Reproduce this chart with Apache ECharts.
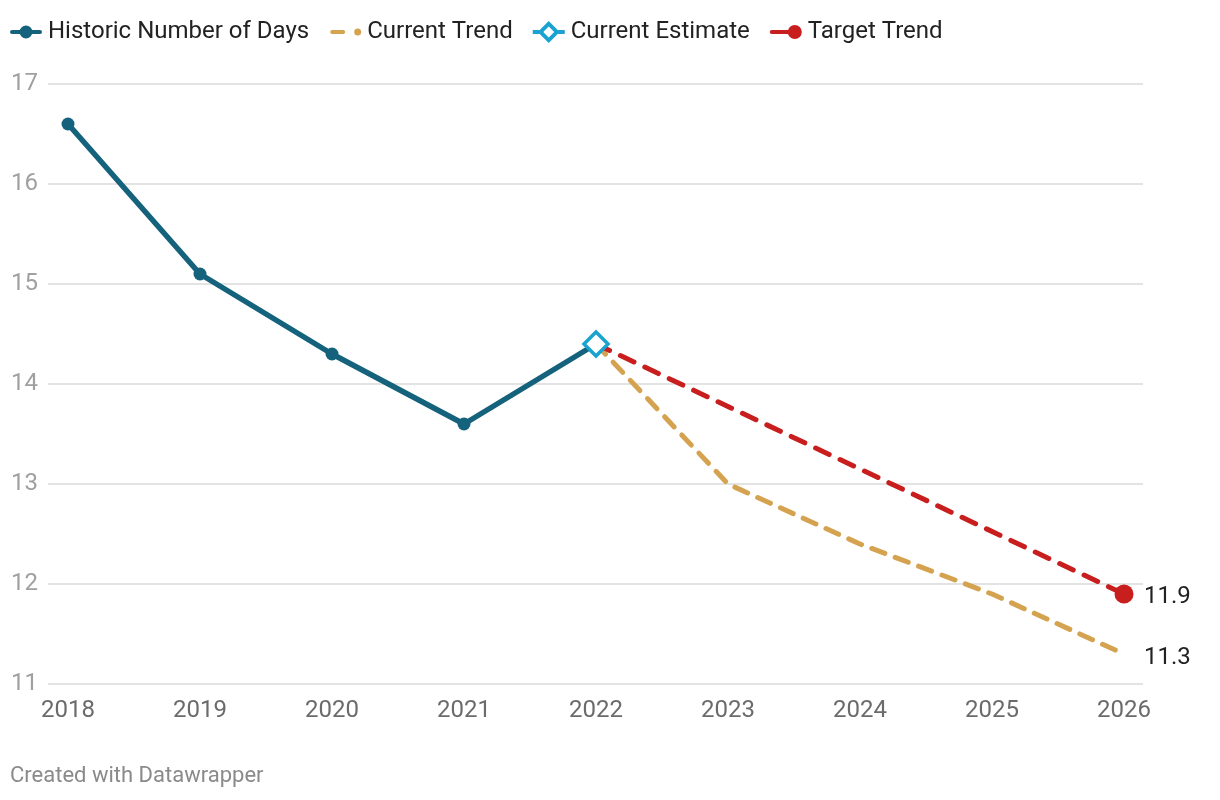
<!DOCTYPE html>
<html>
<head>
<meta charset="utf-8">
<script src="https://cdn.jsdelivr.net/npm/echarts@6/dist/echarts.min.js"></script>
<style>
html,body{margin:0;padding:0;background:#fff;}
#c{width:1220px;height:800px;}
</style>
</head>
<body>
<div id="c"></div>
<script>
const years = [2018, 2019, 2020, 2021, 2022, 2023, 2024, 2025, 2026];
const historicYears = [2018, 2019, 2020, 2021, 2022];
const historicValues = [16.6, 15.1, 14.3, 13.6, 14.4];
const currentTrendYears = [2022, 2023, 2024, 2025, 2026];
const currentTrendValues = [14.4, 13.0, 12.4, 11.9, 11.3];
const estimateYears = [2022];
const estimateValues = [14.4];
const targetYears = [2022, 2026];
const targetValues = [14.4, 11.9];
const yTicks = [11, 12, 13, 14, 15, 16, 17];

const pair = (xs, ys) => xs.map((x, i) => [x, ys[i]]);
const FONT = 'Roboto';

// legend icon paths in a 34 x 22 box (tiny corner anchors fix the box)
const BOX = 'M0,0 L0.01,0 L0,0.01 Z M34,22 L33.99,22 L34,21.99 Z ';
const circ = (cx, cy, r) => `M${cx},${cy - r} A${r},${r} 0 1 1 ${cx},${cy + r} A${r},${r} 0 1 1 ${cx},${cy - r} Z `;
const bar = (x1, x2) => `M${x1 + 2},9 L${x2 - 2},9 A2,2 0 0 1 ${x2 - 2},13 L${x1 + 2},13 A2,2 0 0 1 ${x1 + 2},9 Z `;
const iconHistoric = 'path://' + BOX + bar(1, 33) + circ(17, 11, 6.5);
const iconCurrent = 'path://' + BOX + bar(2, 17) + circ(29.5, 11, 3.5);
const iconEstimate = 'path://' + BOX +
  'M17,0 L28,11 L17,22 L6,11 Z M17,5.5 L11.5,11 L17,16.5 L22.5,11 Z ' +
  'M1,9 L7.5,9 L7.5,13 L1,13 Z M26.5,9 L33,9 L33,13 L26.5,13 Z';
const iconTarget = 'path://' + BOX + bar(1, 24) + circ(26, 11, 7);

const chart = echarts.init(document.getElementById('c'));
const endLbl = {
  show: true, distance: 20,
  color: '#222', fontSize: 24, fontFamily: FONT,
  formatter: p => p.value[1].toFixed(1)
};

chart.setOption({
  animation: false,
  textStyle: { fontFamily: FONT },
  legend: {
    left: 4, top: 15,
    itemWidth: 34, itemHeight: 22, itemGap: 19,
    textStyle: { fontSize: 24, color: '#222', fontFamily: FONT },
    data: [
      { name: 'Historic Number of Days', icon: iconHistoric, itemStyle: { color: '#14627c', borderWidth: 0 } },
      { name: 'Current Trend', icon: iconCurrent, itemStyle: { color: '#d5a350', borderWidth: 0 } },
      { name: 'Current Estimate', icon: iconEstimate, itemStyle: { color: '#1aa2d1', borderWidth: 0 } },
      { name: 'Target Trend', icon: iconTarget, itemStyle: { color: '#c81e1e', borderWidth: 0 } }
    ]
  },
  grid: { left: 48, right: 77, top: 84, bottom: 116, containLabel: false },
  xAxis: {
    type: 'value',
    min: 2018 - 20 / 132,
    max: 2026 + 19 / 132,
    axisLine: { show: false },
    axisTick: { show: false },
    splitLine: { show: false },
    axisLabel: {
      customValues: years,
      formatter: v => String(Math.round(v)),
      color: '#6b6b6b', fontSize: 24, fontFamily: FONT, margin: 15
    }
  },
  yAxis: {
    type: 'value', min: 11, max: 17, interval: 1,
    axisLine: { show: false }, axisTick: { show: false },
    splitLine: { lineStyle: { color: '#e3e3e3', width: 2 } },
    axisLabel: {
      color: '#a0a0a0', fontSize: 24, fontFamily: FONT,
      align: 'left', margin: 37,
      formatter: v => yTicks.includes(v) ? String(v) : ''
    }
  },
  series: [
    {
      name: 'Current Trend', type: 'line',
      data: pair(currentTrendYears, currentTrendValues),
      symbol: 'none', z: 2,
      lineStyle: { color: '#d5a350', width: 5, type: [14, 11], cap: 'round' },
      itemStyle: { color: '#d5a350' },
      endLabel: Object.assign({}, endLbl, { offset: [0, 4] })
    },
    {
      name: 'Target Trend', type: 'line',
      data: pair(targetYears, targetValues).map((d, i, a) =>
        i === a.length - 1 ? { value: d, symbol: 'circle', symbolSize: 19 }
                           : { value: d, symbol: 'none' }),
      symbol: 'circle', symbolSize: 19, z: 3,
      lineStyle: { color: '#c81e1e', width: 5, type: [15, 12], cap: 'round' },
      itemStyle: { color: '#c81e1e' },
      endLabel: Object.assign({}, endLbl, { offset: [0, 3] })
    },
    {
      name: 'Historic Number of Days', type: 'line',
      data: pair(historicYears, historicValues),
      symbol: 'circle', symbolSize: 13, z: 4,
      lineStyle: { color: '#14627c', width: 5.5 },
      itemStyle: { color: '#14627c' }
    },
    {
      name: 'Current Estimate', type: 'line',
      data: pair(estimateYears, estimateValues),
      symbol: 'diamond', symbolSize: 24, z: 5,
      lineStyle: { color: '#1aa2d1', width: 5 },
      itemStyle: { color: '#ffffff', borderColor: '#1aa2d1', borderWidth: 3.5 }
    }
  ],
  graphic: [{
    type: 'text', left: 10, top: 765,
    style: { text: 'Created with Datawrapper', fill: '#8a8a8a', fontSize: 22, fontFamily: FONT }
  }]
});
</script>
</body>
</html>
